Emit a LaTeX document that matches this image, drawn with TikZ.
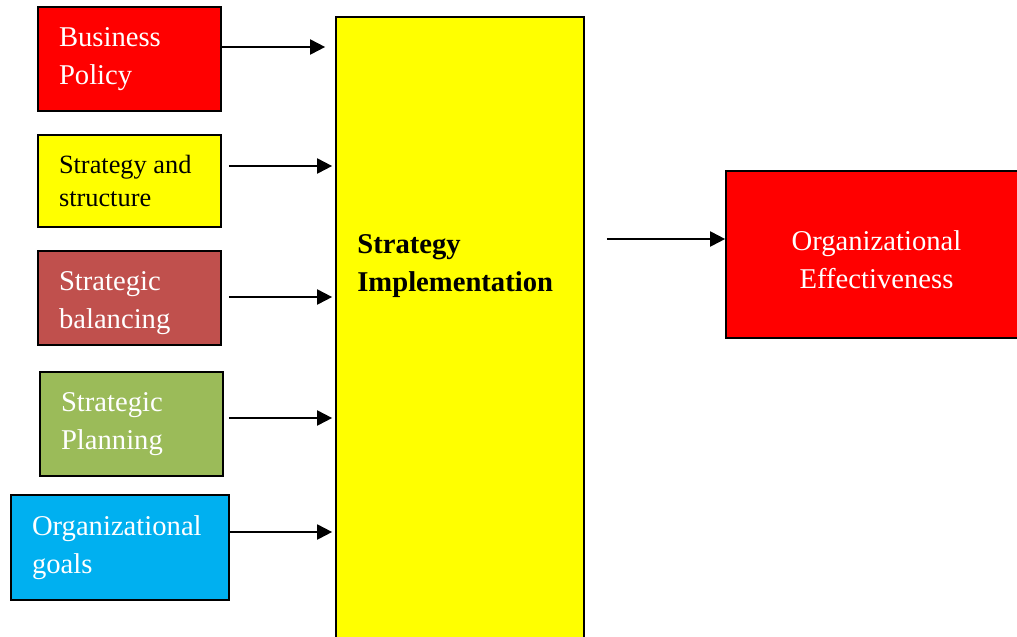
\documentclass[tikz,border=0pt]{standalone}
\usepackage{fontspec}
\setmainfont{Liberation Serif}
\usetikzlibrary{arrows.meta}
\definecolor{boxred}{HTML}{FF0000}
\definecolor{boxyellow}{HTML}{FFFF00}
\definecolor{boxbrick}{HTML}{C0504D}
\definecolor{boxolive}{HTML}{9BBB59}
\definecolor{boxsky}{HTML}{00B0F0}
\tikzset{
  factor/.style={draw=black, line width=1pt, minimum width=3.66cm, inner xsep=0.42cm,
    text width=2.82cm, align=flush left, text=white, font=\fontsize{16.3}{21.5}\selectfont},
  feed/.style={-{Triangle[length=0.3cm,width=0.3cm]}, line width=1.1pt},
}
\begin{document}
\begin{tikzpicture}[x=0.02cm, y=-0.02cm]
  \clip (0,0) rectangle (1017,636);
  \fill[white] (0,0) rectangle (1017,636);
  % factors on the left
  \node[factor, fill=boxred, minimum height=2.08cm] (bp) at (129.5,59) {Business\\Policy};
  \node[factor, fill=boxyellow, text=black, minimum height=1.84cm,
    font=\fontsize{15}{19.3}\selectfont] (ss) at (129.5,181) {Strategy and\\structure};
  \node[factor, fill=boxbrick, minimum height=1.88cm] (sb) at (129.5,298)
    {\rule{0pt}{16.5pt}Strategic\\balancing};
  \node[factor, fill=boxolive, minimum height=2.08cm] (sp) at (131.5,424) {Strategic\\Planning};
  \node[factor, fill=boxsky, minimum height=2.1cm, minimum width=4.36cm,
    text width=3.52cm] (og) at (120,547.5) {Organizational\\goals};
  % implementation and outcome
  \node[draw=black, line width=1pt, fill=boxyellow, minimum width=4.96cm,
    minimum height=12.86cm] (si) at (460,338.5) {};
  \node[anchor=west, inner sep=0pt, align=left,
    font=\fontsize{16.3}{21.5}\selectfont\bfseries] (sitext) at (357,266) {Strategy\\Implementation};
  \node[draw=black, line width=1pt, fill=boxred, minimum width=6.02cm, minimum height=3.34cm,
    text width=5.18cm, align=center, text=white, font=\fontsize{16.3}{21.5}\selectfont]
    (oe) at (876.5,254.5) {\rule{0pt}{17.5pt}Organizational\\Effectiveness};
  % arrows
  \draw[feed, shorten >=0.2cm] (bp.east |- 0,47) -- (si.west |- 0,47);
  \draw[feed, shorten <=0.14cm, shorten >=0.06cm] (ss.east |- 0,166) -- (si.west |- 0,166);
  \draw[feed, shorten <=0.14cm, shorten >=0.06cm] (sb.east |- 0,297) -- (si.west |- 0,297);
  \draw[feed, shorten <=0.1cm, shorten >=0.06cm] (sp.east |- 0,418) -- (si.west |- 0,418);
  \draw[feed, shorten >=0.06cm] (og.east |- 0,532) -- (si.west |- 0,532);
  \draw[feed, shorten <=0.44cm] (si.east |- 0,239) -- (oe.west |- 0,239);
\end{tikzpicture}
\end{document}
